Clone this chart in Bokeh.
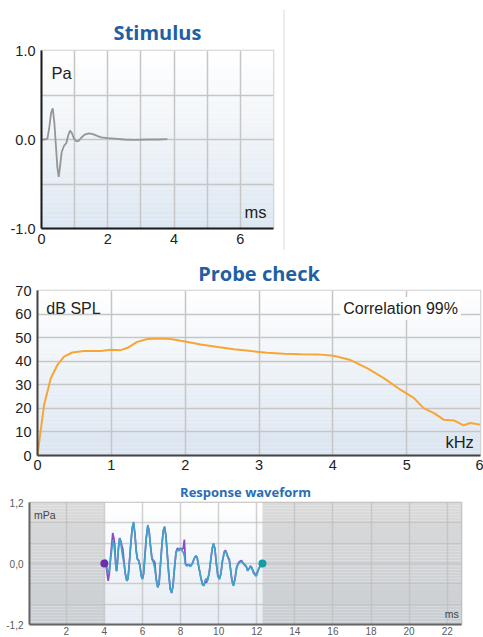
import numpy as np
from bokeh.plotting import figure
from bokeh.models import Title, Label, FixedTicker, Div, Range1d, NumeralTickFormatter
from bokeh.layouts import column, row
from bokeh.embed import file_html
from bokeh.resources import INLINE

# ---------------- data ----------------
stim_t = [0, 0.1, 0.18, 0.24, 0.29, 0.34, 0.39, 0.44, 0.48, 0.52, 0.56, 0.61, 0.68, 0.75, 0.81,
          0.86, 0.92, 0.98, 1.05, 1.12, 1.2, 1.3, 1.43, 1.55, 1.68, 1.8, 2.0, 2.2, 2.5, 2.8, 3.2, 3.5, 3.8]
stim_p = [0.0, 0.0, 0.01, 0.15, 0.3, 0.35, 0.18, -0.1, -0.32, -0.42, -0.3, -0.14, -0.07, -0.04, 0.05,
          0.1, 0.07, 0.01, -0.02, -0.015, 0.02, 0.055, 0.07, 0.06, 0.04, 0.025, 0.015, 0.01, 0.0, -0.005, 0.0, 0.0, 0.005]

probe_f = [0.0, 0.036, 0.09, 0.18, 0.27, 0.36, 0.47, 0.63, 0.86, 0.99, 1.13, 1.22, 1.35, 1.49, 1.67,
           1.8, 1.98, 2.21, 2.44, 2.66, 2.89, 3.11, 3.34, 3.56, 3.79, 4.01, 4.24, 4.47, 4.69, 4.92,
           5.1, 5.23, 5.37, 5.5, 5.64, 5.77, 5.86, 6.0]
probe_db = [0.0, 8.9, 21.5, 32.8, 38.4, 41.9, 43.7, 44.3, 44.3, 44.9, 44.7, 45.7, 48.2, 49.4, 49.6,
            49.4, 48.5, 47.1, 46.0, 45.1, 44.3, 43.6, 43.2, 43.0, 42.9, 42.3, 40.5, 37.0, 32.8, 27.8,
            24.3, 20.1, 18.0, 15.2, 14.9, 12.8, 13.8, 13.1]

resp_t = [4.0, 4.05, 4.1, 4.15, 4.2, 4.26, 4.32, 4.38, 4.44, 4.5,
          4.55, 4.6, 4.64, 4.68, 4.74, 4.8, 4.86, 4.92, 4.97, 5.03,
          5.1, 5.18, 5.24, 5.3, 5.38, 5.46, 5.53, 5.6, 5.67, 5.73,
          5.8, 5.87, 5.94, 6.0, 6.06, 6.13, 6.2, 6.28, 6.35, 6.42,
          6.5, 6.58, 6.65, 6.72, 6.8, 6.87, 6.95, 7.03, 7.1, 7.16,
          7.23, 7.3, 7.38, 7.46, 7.53, 7.6, 7.68, 7.76, 7.83, 7.92,
          8.0, 8.08, 8.14, 8.2, 8.26, 8.33, 8.42, 8.52, 8.62, 8.72,
          8.8, 8.87, 8.95, 9.05, 9.15, 9.23, 9.3, 9.36, 9.42, 9.5,
          9.58, 9.66, 9.73, 9.8, 9.88, 9.96, 10.04, 10.12, 10.2, 10.3,
          10.36, 10.42, 10.5, 10.56, 10.62, 10.7, 10.78, 10.86, 10.94, 11.02,
          11.1, 11.2, 11.3, 11.38, 11.45, 11.52, 11.6, 11.68, 11.75, 11.82,
          11.9, 11.97, 12.04, 12.11, 12.2, 12.3]
resp_cyan = [0.0, 0.08, 0.02, -0.12, -0.2, -0.12, 0.05, 0.25, 0.45, 0.38,
             0.2, -0.05, -0.15, -0.02, 0.3, 0.5, 0.42, 0.25, 0.12, 0.0,
             -0.2, -0.34, -0.3, -0.05, 0.35, 0.7, 0.82, 0.6, 0.25, 0.08,
             0.06, -0.05, -0.25, -0.31, -0.2, 0.15, 0.5, 0.76, 0.65, 0.35,
             0.08, 0.02, -0.1, -0.3, -0.46, -0.4, 0.0, 0.4, 0.66, 0.73,
             0.55, 0.2, -0.2, -0.5, -0.57, -0.45, -0.1, 0.2, 0.27, 0.25,
             0.3, 0.25, 0.22, 0.15, -0.02, -0.05, -0.02, -0.06, 0.0, 0.1,
             0.15, 0.12, -0.05, -0.25, -0.42, -0.44, -0.32, -0.3, -0.34, -0.2,
             0.05, 0.3, 0.4, 0.3, 0.0, -0.25, -0.31, -0.2, 0.05, 0.22,
             0.24, 0.2, 0.1, 0.06, -0.1, -0.35, -0.44, -0.3, -0.1, -0.02,
             0.02, 0.04, 0.0, -0.02, -0.06, -0.15, -0.1, -0.05, -0.08, -0.18,
             -0.22, -0.25, -0.18, -0.1, -0.04, 0.0]
resp_purple = [0.0, 0.02, -0.05, -0.2, -0.34, -0.2, 0.1, 0.35, 0.6, 0.5,
               0.35, -0.02, -0.15, -0.02, 0.3, 0.5, 0.45, 0.35, 0.28, 0.05,
               -0.2, -0.34, -0.3, -0.05, 0.35, 0.68, 0.8, 0.6, 0.27, 0.1,
               0.06, -0.05, -0.25, -0.3, -0.2, 0.15, 0.5, 0.74, 0.64, 0.35,
               0.1, 0.06, 0.02, -0.3, -0.47, -0.4, 0.0, 0.4, 0.65, 0.72,
               0.55, 0.2, -0.2, -0.5, -0.58, -0.45, -0.1, 0.22, 0.3, 0.28,
               0.3, 0.28, 0.3, 0.47, 0.0, -0.04, -0.02, -0.05, 0.0, 0.1,
               0.15, 0.12, -0.05, -0.25, -0.4, -0.42, -0.35, -0.38, -0.3, -0.2,
               0.05, 0.28, 0.38, 0.3, 0.0, -0.24, -0.3, -0.2, 0.05, 0.24,
               0.26, 0.2, 0.12, 0.08, -0.1, -0.33, -0.43, -0.3, -0.08, 0.0,
               0.04, 0.06, 0.0, -0.04, -0.06, -0.13, -0.1, -0.05, -0.1, -0.16,
               -0.2, -0.24, -0.16, -0.1, -0.04, 0.0]
resp_window = [4.0, 12.3]

TITLE_BLUE = "#1f5fa3"
LABEL_FONT = "Liberation Sans"


def hexmix(c1, c2, f):
    a = np.array([int(c1[i:i + 2], 16) for i in (1, 3, 5)], dtype=float)
    b = np.array([int(c2[i:i + 2], 16) for i in (1, 3, 5)], dtype=float)
    m = a + (b - a) * f
    return "#%02x%02x%02x" % tuple(int(round(v)) for v in m)


def gradient(p, x0, x1, y0, y1, top, bottom, n=40):
    edges = np.linspace(y1, y0, n + 1)
    cols = [hexmix(top, bottom, (i + 0.5) / n) for i in range(n)]
    p.quad(left=x0, right=x1, top=edges[:-1], bottom=edges[1:], fill_color=cols,
           line_color=None, level="image")


def style(p, axis_color, lab_size, lab_color="#222222"):
    p.background_fill_color = "white"
    p.border_fill_color = "white"
    p.outline_line_color = "#cfcfcf"
    p.outline_line_width = 1.5
    for ax in (p.xaxis[0], p.yaxis[0]):
        ax.axis_line_color = axis_color
        ax.axis_line_width = 2
        ax.major_tick_out = 0
        ax.major_tick_in = 0
        ax.minor_tick_out = 0
        ax.minor_tick_in = 0
        ax.major_label_text_font = LABEL_FONT
        ax.major_label_text_font_size = lab_size
        ax.major_label_text_color = lab_color
    p.grid.grid_line_color = "#c6c6c6"
    p.grid.grid_line_width = 1.5


# ---------------- Stimulus ----------------
ps = figure(width=283, height=250, x_range=Range1d(0, 7), y_range=Range1d(-1, 1),
            output_backend="svg", toolbar_location=None,
            min_border_left=41, min_border_right=10, min_border_top=50, min_border_bottom=22)
ps.title = Title(text="Stimulus", align="center", text_font="Open Sans", text_font_size="20px",
                 text_font_style="bold", text_color=TITLE_BLUE, standoff=9)
style(ps, "#1a1a1a", "14.5px")
ps.xaxis.ticker = FixedTicker(ticks=[0, 2, 4, 6])
ps.xgrid.ticker = FixedTicker(ticks=[1, 2, 3, 4, 5, 6])
ps.yaxis.ticker = FixedTicker(ticks=[-1, 0, 1])
ps.yaxis.formatter = NumeralTickFormatter(format="0.0")
ps.ygrid.ticker = FixedTicker(ticks=[-0.5, 0, 0.5])
ps.xaxis.major_label_standoff = 5
ps.yaxis.major_label_standoff = 6
gradient(ps, 0, 7, -1, 1, "#ffffff", "#dde7f1")
ps.line(stim_t, stim_p, line_color="#959595", line_width=1.8)
ps.add_layout(Label(x=0.3, y=0.75, text="Pa", text_font=LABEL_FONT, text_font_size="16.5px",
                    text_color="#222222", text_baseline="middle"))
ps.add_layout(Label(x=6.79, y=-0.82, text="ms", text_font=LABEL_FONT, text_font_size="16.5px",
                    text_color="#222222", text_baseline="middle", text_align="right"))

sep = Div(text="", width=150, height=240, margin=(10, 0, 0, 0),
          styles={"border-left": "2px solid #ececec"})

# ---------------- Probe check ----------------
pp = figure(width=483, height=228, x_range=Range1d(0, 6), y_range=Range1d(0, 70),
            output_backend="svg", toolbar_location=None,
            min_border_left=37, min_border_right=3, min_border_top=40, min_border_bottom=23)
pp.title = Title(text="Probe check", align="center", text_font="Open Sans", text_font_size="20px",
                 text_font_style="bold", text_color=TITLE_BLUE, standoff=8)
style(pp, "#444444", "14.5px")
pp.xaxis.ticker = FixedTicker(ticks=[0, 1, 2, 3, 4, 5, 6])
pp.xgrid.ticker = FixedTicker(ticks=[1, 2, 3, 4, 5])
pp.yaxis.ticker = FixedTicker(ticks=[0, 10, 20, 30, 40, 50, 60, 70])
pp.ygrid.ticker = FixedTicker(ticks=[10, 20, 30, 40, 50, 60])
pp.xaxis.major_label_standoff = 4
pp.yaxis.major_label_standoff = 6
gradient(pp, 0, 6, 0, 70, "#ffffff", "#dbe5f0")
pp.line(probe_f, probe_db, line_color="#f7a634", line_width=2)
pp.add_layout(Label(x=0.12, y=62.4, text="dB SPL", text_font=LABEL_FONT, text_font_size="16px",
                    text_color="#222222", text_baseline="middle"))
pp.add_layout(Label(x=4.1, y=62.4, text="Correlation 99%", text_font=LABEL_FONT, text_font_size="16px",
                    text_color="#222222", text_baseline="middle", background_fill_color="white",
                    padding=3))
pp.add_layout(Label(x=5.91, y=5.9, text="kHz", text_font=LABEL_FONT, text_font_size="16.5px",
                    text_color="#222222", text_baseline="middle", text_align="right"))

# ---------------- Response waveform ----------------
pr = figure(width=483, height=159, x_range=Range1d(0.07, 22.75), y_range=Range1d(-1.2, 1.2),
            output_backend="svg", toolbar_location=None,
            min_border_left=29, min_border_right=22, min_border_top=24, min_border_bottom=13)
pr.title = Title(text="Response waveform", align="center", text_font="Open Sans", text_font_size="13px",
                 text_font_style="bold", text_color="#2a6db5", standoff=4)
style(pr, "#666666", "10px", lab_color="#5a5a5a")
pr.outline_line_color = "#bdbdbd"
pr.xaxis.ticker = FixedTicker(ticks=[2, 4, 6, 8, 10, 12, 14, 16, 18, 20, 22])
pr.xgrid.ticker = FixedTicker(ticks=[2, 4, 6, 8, 10, 12, 14, 16, 18, 20, 22])
pr.yaxis.ticker = FixedTicker(ticks=[-1.2, 0, 1.2])
pr.yaxis.major_label_overrides = {1.2: "1,2", 0: "0,0", -1.2: "-1,2"}
pr.ygrid.ticker = FixedTicker(ticks=[-0.8, -0.4, 0, 0.4, 0.8])
pr.grid.grid_line_color = "#bdbdbd"
pr.grid.grid_line_alpha = 0.7
pr.xaxis.major_label_standoff = 2
pr.yaxis.major_label_standoff = 6
gradient(pr, 0.07, resp_window[0], -1.2, 1.2, "#dadada", "#c9ced3")
gradient(pr, resp_window[0], resp_window[1], -1.2, 1.2, "#ffffff", "#e4ebf3")
gradient(pr, resp_window[1], 22.75, -1.2, 1.2, "#dadada", "#c9ced3")
pr.line(resp_t, resp_purple, line_color="#8a4cc4", line_width=1.7)
pr.line(resp_t, resp_cyan, line_color="#3fa3c9", line_width=1.7)
pr.scatter([resp_window[0]], [0], size=8, fill_color="#6a2fa8", line_color=None)
pr.scatter([resp_window[1]], [0], size=8, fill_color="#179ca6", line_color=None)
pr.add_layout(Label(x=0.3, y=0.95, text="mPa", text_font=LABEL_FONT, text_font_size="10.5px",
                    text_color="#444444", text_baseline="middle"))
pr.add_layout(Label(x=22.6, y=-1.0, text="ms", text_font=LABEL_FONT, text_font_size="10.5px",
                    text_color="#444444", text_baseline="middle", text_align="right"))

layout = column(row(ps, sep), row(pp), row(pr))
open("out.html", "w").write(file_html(layout, INLINE))
